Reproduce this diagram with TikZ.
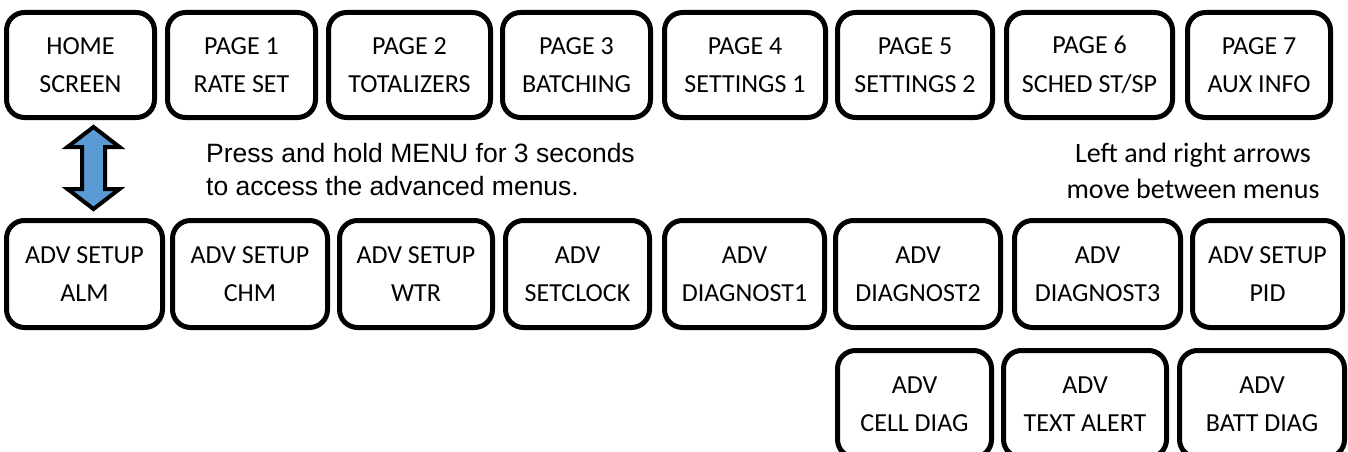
\documentclass[tikz,border=0pt]{standalone}
\usepackage{fontspec}
\setmainfont{Carlito}
\newfontfamily\arialfont{Liberation Sans}
\usetikzlibrary{positioning, calc}
\definecolor{arrowblue}{HTML}{5B9BD5}
\tikzset{menu node/.style={rectangle, draw, line width=5pt, rounded corners=18pt, align=center, inner sep=0pt, font=\fontsize{26}{38.5}\selectfont},
	top node/.style={menu node, minimum height=105pt},
	adv node/.style={menu node, minimum height=107pt},}

\begin{document}
\begin{tikzpicture}[x=1pt, y=-1pt]
				\path[use as bounding box, fill=white] (0,0) rectangle (1348,452);
				% Main pages
				\node[top node, minimum width=148pt] (home) at (80.5,65) {HOME\\SCREEN};
				\node[top node, minimum width=148pt] [right = 8pt of home] (p1) {PAGE 1\\RATE SET};
				\node[top node, minimum width=162pt] [right = 8pt of p1] (p2) {PAGE 2\\TOTALIZERS};
				\node[top node, minimum width=148pt] [right = 7pt of p2] (p3) {PAGE 3\\BATCHING};
				\node[top node, minimum width=161pt] [right = 9pt of p3] (p4) {PAGE 4\\SETTINGS 1};
				\node[top node, minimum width=155pt] [right = 7pt of p4] (p5) {PAGE 5\\SETTINGS 2};
				\node[top node, minimum width=166pt] [right = 9pt of p5] (p6) {PAGE 6\\SCHED ST/SP};
				\node[top node, minimum width=143pt] [right = 10pt of p6] (p7) {PAGE 7\\AUX INFO};
				% Advanced menus
				\node[adv node, minimum width=156pt] (alm) at (84.5,274) {ADV SETUP\\ALM};
				\node[adv node, minimum width=155pt] [right = 5pt of alm] (chm) {ADV SETUP\\CHM};
				\node[adv node, minimum width=153pt] [right = 7pt of chm] (wtr) {ADV SETUP\\WTR};
				\node[adv node, minimum width=144pt] [right = 8pt of wtr] (clock) {ADV\\SETCLOCK};
				\node[adv node, minimum width=160pt] [right = 10pt of clock] (diag1) {ADV\\DIAGNOST1};
				\node[adv node, minimum width=165pt] [right = 6pt of diag1] (diag2) {ADV\\DIAGNOST2};
				\node[adv node, minimum width=166pt] [right = 9pt of diag2] (diag3) {ADV\\DIAGNOST3};
				\node[adv node, minimum width=150pt] [right = 7pt of diag3] (pid) {ADV SETUP\\PID};
				\node[adv node, minimum width=154pt] (cell) at (914.5,404) {ADV\\CELL DIAG};
				\node[adv node, minimum width=163pt] [right = 7pt of cell] (alert) {ADV\\TEXT ALERT};
				\node[adv node, minimum width=165pt] [right = 8pt of alert] (batt) {ADV\\BATT DIAG};
				% Notes
				\node[anchor=north west, align=left, inner sep=0pt, font=\arialfont\fontsize{26.5}{33}\selectfont] (hold) at (206,143) {Press and hold MENU for 3 seconds\\to access the advanced menus.};
				\node[anchor=north, align=center, inner sep=0pt, font=\fontsize{28}{36}\selectfont] (move) at (1193,143) {Left and right arrows\\move between menus};
				% Up/down arrow
				\coordinate (mid) at ($(home.south)!0.5!(alm.north)+(11,0)$);
				\draw[line width=4pt, fill=arrowblue, miter limit=10] ($(mid)+(0,-42)$) -- ++(26,20) -- ++(-14.5,0) -- ++(0,42) -- ++(14.5,0) -- ++(-26,20) -- ++(-26,-20) -- ++(14.5,0) -- ++(0,-42) -- ++(-14.5,0) -- cycle;
			\end{tikzpicture}
\end{document}
